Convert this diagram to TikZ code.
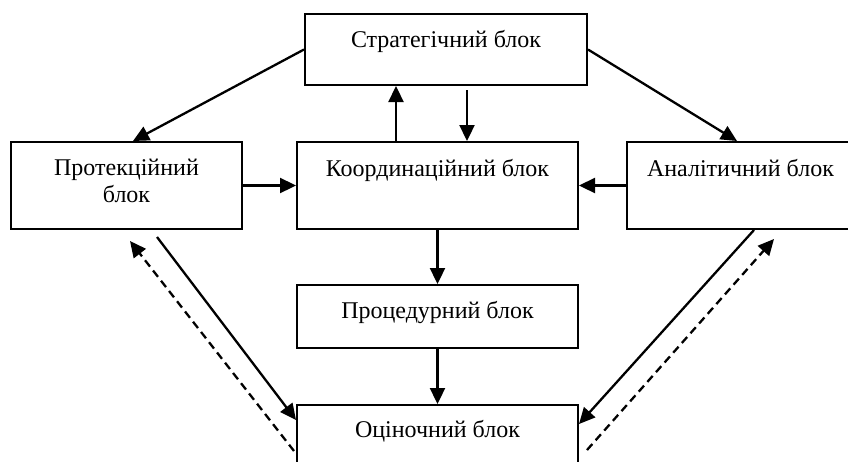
\documentclass[tikz,border=0pt]{standalone}
\usepackage{fontspec}
\setmainfont{Liberation Serif}
\usetikzlibrary{positioning}
\usetikzlibrary{calc}
\usetikzlibrary{arrows.meta}

\tikzset{
    blok/.style={draw, rectangle, line width=2pt, inner sep=0pt, font=\fontsize{24}{27}\selectfont},
    link/.style={->, line width=2.3pt},
    zvorot/.style={->, line width=2.3pt, dash pattern=on 8pt off 5pt}
}

\begin{document}
\begin{tikzpicture}[x=1pt, y=-1pt, >={Triangle[length=16pt,width=15pt]}]
    \useasboundingbox (0,0) rectangle (848,461);
    \node[blok, minimum width=282pt, text height=33pt, text depth=38pt] (strat) at (446,49.5) {Стратегічний блок};
    \node[blok, minimum width=231pt, text height=60pt, text depth=27pt, align=center] (prot) at (126.5,185.5) {Протекційний\\блок};
    \node[blok, minimum width=281pt, text height=34pt, text depth=53pt] (koord) at (437.5,185.5) {Координаційний блок};
    \node[blok, minimum width=227pt, text height=34pt, text depth=53pt] (anal) at (740.5,185.5) {Аналітичний блок};
    \node[blok, minimum width=281pt, text height=33pt, text depth=30pt] (proc) at (437.5,316.5) {Процедурний блок};
    \node[blok, minimum width=281pt, text height=32pt, text depth=55pt] (otsin) at (437.5,448.5) {Оціночний блок};
    \draw [link] (strat.west)--([xshift=6.5pt]prot.north);
    \draw [link] (strat.east)--([xshift=-3.5pt]anal.north);
    \draw [link] ([xshift=-41.5pt]koord.north)--([xshift=-50pt]strat.south);
    \draw [link] ([xshift=21pt,yshift=-4pt]strat.south)--([xshift=29.5pt]koord.north);
    \draw [link] (prot.east)--(koord.west);
    \draw [link] (anal.west)--(koord.east);
    \draw [link] (koord.south)--(proc.north);
    \draw [link] (proc.south)--(otsin.north);
    \draw [link] ([xshift=30.5pt,yshift=-7pt]prot.south)--([yshift=-16pt]otsin.north west);
    \draw [zvorot] ([xshift=-2pt,yshift=-47pt]otsin.north west)--([xshift=3.5pt,yshift=-11pt]prot.south);
    \draw [link] ([xshift=13.5pt]anal.south)--([yshift=-20pt]otsin.north east);
    \draw [zvorot] ([xshift=8pt,yshift=-46pt]otsin.north east)--([xshift=33.5pt,yshift=-9pt]anal.south);
\end{tikzpicture}
\end{document}
